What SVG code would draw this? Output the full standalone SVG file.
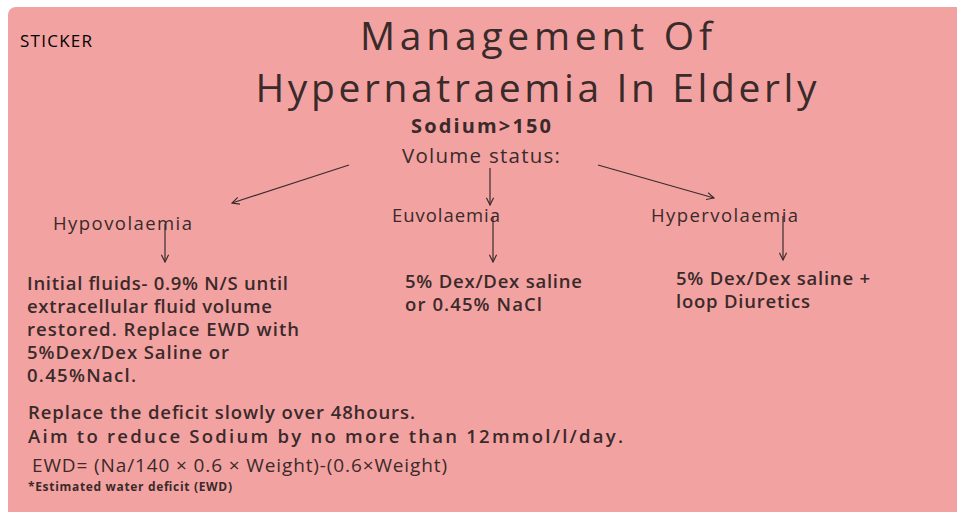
<svg xmlns="http://www.w3.org/2000/svg" width="957" height="512" viewBox="0 0 957 512">
<defs>
<marker id="ah" viewBox="0 0 10 10" refX="9" refY="5" markerWidth="9" markerHeight="9" orient="auto" markerUnits="userSpaceOnUse">
<path d="M1,1 L9,5 L1,9" fill="none" stroke="#3a2c2c" stroke-width="1.3"/>
</marker>
<style>
text{font-family:"Open Sans","Liberation Sans",sans-serif;fill:#3a2a2a}
.t{font-size:39px}
.h{font-size:18.5px}
.b{font-size:18.5px;font-weight:600}
.c{stroke:#3a2c2c;stroke-width:1.2;fill:none;marker-end:url(#ah)}
</style>
</defs>
<rect width="957" height="512" fill="#ffffff"/>
<rect x="8" y="7" width="960" height="520" rx="8" fill="#f3a2a2"/>
<g id="sticker"><text x="20" y="47" style="font-size:17px;fill:#000" textLength="72">STICKER</text></g>
<g id="title">
<text class="t" x="536" y="50" text-anchor="middle" textLength="352">Management Of</text>
<text class="t" x="536" y="102" text-anchor="middle" textLength="561">Hypernatraemia In Elderly</text>
<text x="481" y="133" text-anchor="middle" style="font-size:20px;font-weight:700" textLength="140">Sodium&gt;150</text>
<text x="481" y="163" text-anchor="middle" style="font-size:20.5px" textLength="158">Volume status:</text>
</g>
<g id="connectors">
<line class="c" x1="349" y1="165" x2="232" y2="203"/>
<line class="c" x1="490" y1="168" x2="490" y2="205"/>
<line class="c" x1="598" y1="165" x2="714" y2="198"/>
<line class="c" x1="165" y1="224" x2="165" y2="262"/>
<line class="c" x1="493" y1="216" x2="493" y2="262"/>
<line class="c" x1="783" y1="216" x2="783" y2="260"/>
</g>
<g id="hypo">
<text class="h" x="53" y="230" textLength="139">Hypovolaemia</text>
<text class="b" x="27" y="290" textLength="261">Initial fluids- 0.9% N/S until</text>
<text class="b" x="27" y="313" textLength="245">extracellular fluid volume</text>
<text class="b" x="27" y="336" textLength="272">restored. Replace EWD with</text>
<text class="b" x="27" y="359" textLength="202">5%Dex/Dex Saline or</text>
<text class="b" x="27" y="382" textLength="109">0.45%Nacl.</text>
</g>
<g id="euvo">
<text class="h" x="392" y="222" textLength="108">Euvolaemia</text>
<text class="b" x="405" y="288" textLength="177">5% Dex/Dex saline</text>
<text class="b" x="405" y="311" textLength="137">or 0.45% NaCl</text>
</g>
<g id="hyper">
<text class="h" x="651" y="222" textLength="147">Hypervolaemia</text>
<text class="b" x="676" y="285" textLength="194">5% Dex/Dex saline +</text>
<text class="b" x="676" y="308" textLength="134">loop Diuretics</text>
</g>
<g id="notes">
<text class="b" x="28" y="419" style="font-size:18.5px" textLength="387">Replace the deficit slowly over 48hours.</text>
<text class="b" x="28" y="443" style="font-size:18.5px" textLength="595">Aim to reduce Sodium by no more than 12mmol/l/day.</text>
<text x="32" y="472" style="font-size:19px" textLength="415">EWD= (Na/140 × 0.6 × Weight)-(0.6×Weight)</text>
<text x="28" y="491" style="font-size:12px;font-weight:700" textLength="204">*Estimated water deficit (EWD)</text>
</g>
</svg>
